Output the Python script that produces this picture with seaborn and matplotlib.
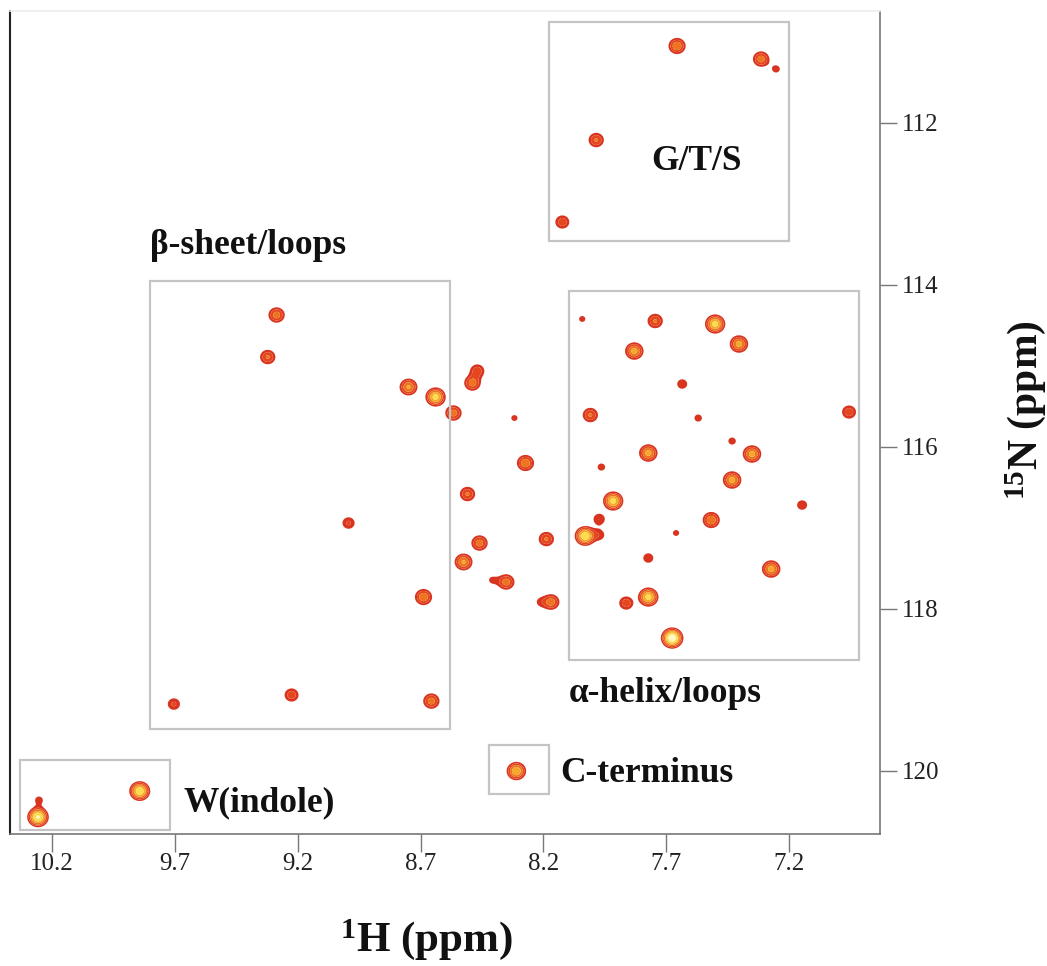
import numpy as np
import matplotlib
matplotlib.use("Agg")
import matplotlib.pyplot as plt
from matplotlib.patches import Rectangle
import seaborn as sns

# ---------------- data ----------------
h_ppm = [9.286, 9.322, 8.749, 8.639, 8.566, 8.489, 8.469, 8.318, 8.273, 8.509,
         8.460, 8.525, 8.188, 8.351, 8.408, 8.168, 8.212, 8.688, 8.009, 8.030,
         8.042, 7.745, 7.501, 7.404, 7.830, 7.635, 7.570, 6.956, 7.773, 7.351,
         7.432, 7.964, 7.432, 7.916, 7.517, 7.147, 7.973, 7.973, 7.660, 7.773,
         7.273, 7.773, 7.863, 7.676, 7.656, 7.314, 7.253, 7.985, 8.123, 9.704,
         9.225, 8.656, 10.257, 10.253, 9.843, 8.310, 8.993]
n_ppm = [114.373, 114.892, 115.262, 115.385, 115.583, 115.213, 115.064, 115.645, 116.200, 116.583,
         117.188, 117.422, 117.139, 117.669, 117.645, 117.916, 117.916, 117.855, 115.608, 117.101,
         114.422, 114.447, 114.484, 114.731, 114.818, 115.225, 115.645, 115.571, 116.077, 116.089,
         115.929, 116.250, 116.410, 116.669, 116.904, 116.719, 116.892, 117.089, 117.064, 117.373,
         117.509, 117.855, 117.929, 118.361, 111.052, 111.213, 111.336, 112.213, 113.225, 119.176,
         119.064, 119.139, 120.571, 120.361, 120.250, 120.003, 116.941]
intensity = [3.5, 3.0, 4.5, 7.0, 3.5, 3.5, 2.5, 1.2, 4.0, 3.0,
             3.5, 4.5, 3.0, 3.5, 1.2, 3.5, 1.2, 4.0, 3.0, 8.0,
             1.2, 3.0, 7.0, 5.0, 5.0, 1.6, 1.3, 2.5, 5.0, 5.0,
             1.3, 1.3, 5.0, 7.0, 4.0, 1.6, 1.8, 1.6, 1.2, 1.6,
             5.0, 7.0, 2.5, 11.0, 4.0, 3.5, 1.3, 3.0, 2.5, 2.0,
             2.5, 3.5, 9.0, 1.3, 8.0, 6.0, 2.0]

region_names = ["G/T/S", "β-sheet/loops", "α-helix/loops", "W(indole)", "C-terminus"]
# boxes: (H left, H right, N top, N bottom)
region_h = [(8.176, 7.200), (9.802, 8.582), (8.095, 6.916), (10.330, 9.721), (8.420, 8.176)]
region_n = [(110.756, 113.46), (113.95, 119.48), (114.08, 118.63), (119.87, 120.73), (119.68, 120.29)]

x_ticks = [10.2, 9.7, 9.2, 8.7, 8.2, 7.7, 7.2]
y_ticks = [112, 114, 116, 118, 120]

# ---------------- style ----------------
sns.set_theme(style="white")
plt.rcParams["font.family"] = ["Liberation Serif", "DejaVu Serif"]
plt.rcParams["mathtext.fontset"] = "custom"
plt.rcParams["mathtext.rm"] = "Liberation Serif"
plt.rcParams["mathtext.bf"] = "Liberation Serif:bold"

fig = plt.figure(figsize=(10.47, 9.66), dpi=100)
ax = fig.add_axes([10 / 1047, 1 - 834 / 966, 870 / 1047, 823 / 966])

xlim = (10.371, 6.83)
ylim = (120.78, 110.62)

# ---------------- peaks as contour blobs ----------------
gx = np.linspace(6.83, 10.371, 1400)
gy = np.linspace(110.62, 120.78, 1100)
X, Y = np.meshgrid(gx, gy)
Z = np.zeros_like(X)
sx, sy = 0.021, 0.060
for h, n, a in zip(h_ppm, n_ppm, intensity):
    Z += a * np.exp(-((X - h) ** 2) / (2 * sx ** 2) - ((Y - n) ** 2) / (2 * sy ** 2))

levels = [1.0, 1.8, 2.8, 4.2, 6.0, 8.5, 1000]
cols = sns.color_palette(["#d9341f", "#e4471d", "#ee7420", "#f6a82a", "#fbdc4c", "#fff7c8"])
ax.contourf(X, Y, Z, levels=levels, colors=cols, antialiased=True)

# ---------------- region boxes ----------------
for (h0, h1), (n0, n1) in zip(region_h, region_n):
    ax.add_patch(Rectangle((h0, n0), h1 - h0, n1 - n0, fill=False,
                           edgecolor="#c4c4c4", linewidth=1.6, zorder=3))

lab_kw = dict(fontsize=25.5, fontweight="bold", color="#111111", zorder=4)
ax.text(7.76, 112.48, "G/T/S", ha="left", va="center", **lab_kw)
ax.text(9.80, 113.52, "β-sheet/loops", ha="left", va="center", **lab_kw)
ax.text(8.095, 119.05, "α-helix/loops", ha="left", va="center", **lab_kw)
ax.text(9.665, 120.39, "W(indole)", ha="left", va="center", **lab_kw)
ax.text(8.13, 120.03, "C-terminus", ha="left", va="center", **lab_kw)

# ---------------- axes ----------------
ax.set_xlim(*xlim)
ax.set_ylim(*ylim)
ax.set_xticks(x_ticks)
ax.set_xticklabels([f"{v:.1f}" for v in x_ticks])
ax.set_yticks(y_ticks)
ax.set_yticklabels([str(v) for v in y_ticks])
ax.yaxis.tick_right()
ax.tick_params(axis="x", direction="out", length=13, width=1.0, color="#777777",
               labelsize=18, pad=1, labelcolor="#222222", bottom=True)
ax.tick_params(axis="y", direction="out", length=12, width=1.0, color="#777777",
               labelsize=18, pad=4, labelcolor="#222222", right=True, left=False)
ax.spines["left"].set_color("#222222")
ax.spines["left"].set_linewidth(1.5)
ax.spines["top"].set_color("#eeeeee")
ax.spines["right"].set_color("#777777")
ax.spines["bottom"].set_color("#777777")
for s in ["top", "right", "bottom"]:
    ax.spines[s].set_linewidth(1.2)
ax.grid(False)

fig.text(426 / 1047, 1 - 940 / 966, r"$\mathbf{^{1}H}$ (ppm)", ha="center", va="center",
         fontsize=31, fontweight="bold", color="#111111")
fig.text(1026 / 1047, 1 - 410 / 966, r"$\mathbf{^{15}N}$ (ppm)", ha="center", va="center",
         rotation=90, fontsize=30, fontweight="bold", color="#111111")

fig.savefig("out.png", dpi=100, facecolor="white")
